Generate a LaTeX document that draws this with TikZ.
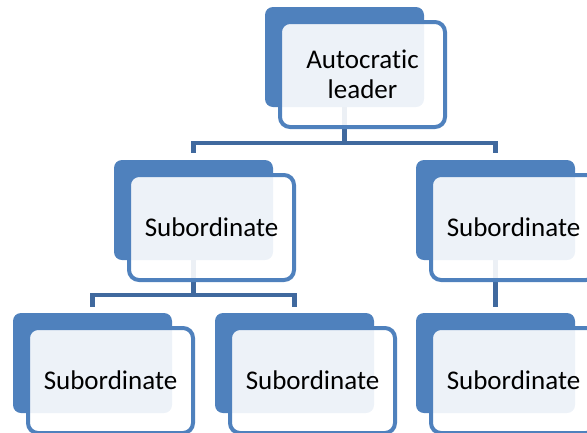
\documentclass[tikz,border=0pt]{standalone}
\usepackage{fontspec}
\setmainfont{Carlito}[Ligatures=NoCommon]
\definecolor{accent}{RGB}{79,129,189}
\definecolor{linkblue}{RGB}{64,105,158}
\tikzset{
  backbox/.style={rectangle, rounded corners=8pt, fill=accent, draw=none,
    minimum width=159pt, minimum height=100pt, outer sep=0pt, inner sep=0pt},
  frontbox/.style={rectangle, rounded corners=10pt, draw=accent, line width=4pt,
    fill=white, fill opacity=0.9, text opacity=1, text=black,
    minimum width=165pt, minimum height=105pt, outer sep=0pt, inner sep=2pt,
    align=center, font=\fontsize{27}{30}\selectfont},
  conn/.style={draw=linkblue, line width=4.5pt}
}
% one org-chart member: filled back card plus translucent front card with label
\newcommand{\member}[4]{%
  \node[backbox] (#1b) at (#2+79.5, #3+50) {};
  \node[frontbox] (#1) at (#2+97.5, #3+67.5) {#4};
}
\begin{document}
\begin{tikzpicture}[x=1pt, y=-1pt]
  \useasboundingbox (0,0) rectangle (587,432);
  \clip (0,0) rectangle (587,432);

  % connector end points, a little above each child card
  \coordinate (cml) at (193.5,153);
  \coordinate (cmr) at (495.5,153);
  \coordinate (cbl) at (92.5,307);
  \coordinate (cbm) at (294.5,307);
  \coordinate (cbr) at (495.5,307);
  % connector start points, hidden under the parent cards
  \coordinate (stop) at (344.5,100);
  \coordinate (sml)  at (193.5,250);
  \coordinate (smr)  at (495.5,250);

  % connectors sit behind the cards
  \draw[conn] (stop) -- (344.5,143) -| (cml);
  \draw[conn] (344.5,143) -| (cmr);
  \draw[conn] (sml) -- (193.5,295) -| (cbl);
  \draw[conn] (193.5,295) -| (cbm);
  \draw[conn] (smr) -- (cbr);

  \member{top}{265}{7}{Autocratic\\leader}
  \member{ml}{114}{160}{Subordinate}
  \member{mr}{416}{160}{Subordinate}
  \member{bl}{13}{313}{Subordinate}
  \member{bm}{215}{313}{Subordinate}
  \member{br}{416}{313}{Subordinate}
\end{tikzpicture}
\end{document}
